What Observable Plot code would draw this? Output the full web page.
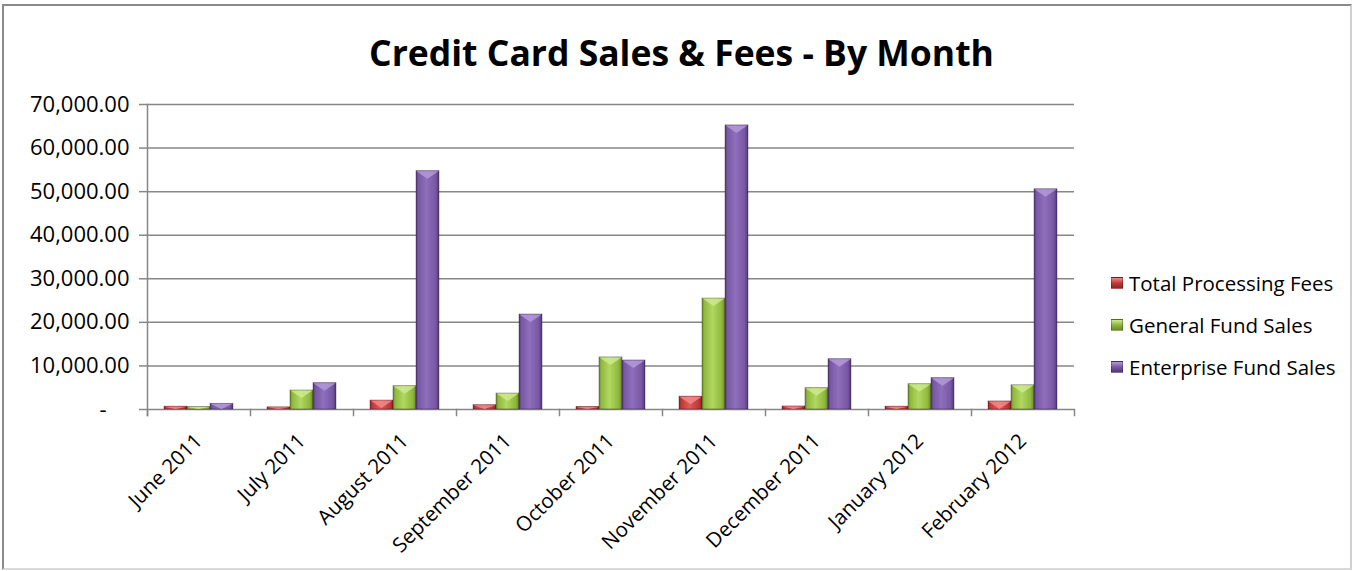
<!DOCTYPE html>
<html>
<head>
<meta charset="utf-8">
<script src="https://cdn.jsdelivr.net/npm/d3@7"></script>
<script src="https://cdn.jsdelivr.net/npm/@observablehq/plot@0.6"></script>
<style>
  body { margin: 0; background: #fff; font-family: "Open Sans", sans-serif; }
  #wrap { position: relative; width: 1353px; height: 571px; overflow: hidden; background: #fff; }
  #frame { position: absolute; left: 2px; top: 4px; width: 1350px; height: 566px; box-sizing: border-box;
           border-top: 2px solid #8a8a8a; border-left: 2px solid #8a8a8a; border-bottom: 2px solid #d9d9d9; border-right: 2px solid #cfcfcf; }
  #title { position: absolute; left: 10px; width: 1343px; top: 28px; text-align: center; font-weight: 700; font-size: 35.5px; color: #000; white-space: nowrap; }
  #legend { position: absolute; left: 1111px; top: 262px; font-size: 20.5px; color: #000; }
  .item { display: flex; align-items: center; height: 42px; white-space: nowrap; }
  .sw { width: 12px; height: 12px; margin-right: 6px; box-sizing: border-box; border: 1px solid rgba(0,0,0,0.25); }
  #chart svg { position: absolute; left: 0; top: 0; }
</style>
</head>
<body>
<div id="wrap">
  <svg width="0" height="0" style="position:absolute">
    <defs id="defs"></defs>
  </svg>
  <div id="frame"></div>
  <div id="chart"></div>
  <div id="title">Credit Card Sales &amp; Fees - By Month</div>
  <div id="legend"></div>
</div>
<script>
// ---- data ----
const months = ["June 2011", "July 2011", "August 2011", "September 2011", "October 2011",
                "November 2011", "December 2011", "January 2012", "February 2012"];
const seriesNames = ["Total Processing Fees", "General Fund Sales", "Enterprise Fund Sales"];
const processingFees      = [650, 500, 2050, 1000, 600, 2950, 700, 650, 1850];
const generalFundSales    = [550, 4350, 5350, 3650, 11950, 25450, 4900, 5800, 5550];
const enterpriseFundSales = [1300, 6050, 54700, 21800, 11250, 65200, 11550, 7200, 50550];
const yTicks = [0, 10000, 20000, 30000, 40000, 50000, 60000, 70000];

// ---- styles ----
const palette = [
  {dark: "#8e2624", mid: "#c0393a", light: "#e05a57", top: "#f08a88"},
  {dark: "#6a8c28", mid: "#8fb83c", light: "#b0d862", top: "#cdea8c"},
  {dark: "#4f3a73", mid: "#7858a4", light: "#8e6fbc", top: "#b49ad8"}
];
const defs = d3.select("#defs");
palette.forEach((p, i) => {
  const g = defs.append("linearGradient").attr("id", "g" + i)
    .attr("x1", 0).attr("x2", 1).attr("y1", 0).attr("y2", 0);
  [[0, p.dark], [0.1, p.mid], [0.45, p.light], [0.85, p.mid], [1, p.dark]].forEach(([o, c]) =>
    g.append("stop").attr("offset", o).attr("stop-color", c));
});

const data = months.flatMap((m, i) => [
  {month: m, series: seriesNames[0], value: processingFees[i]},
  {month: m, series: seriesNames[1], value: generalFundSales[i]},
  {month: m, series: seriesNames[2], value: enterpriseFundSales[i]}
]);

const W = 1353, H = 571;
const axisColor = "#878787";
const fmt = d => d === 0 ? "-\u00a0\u00a0\u00a0\u00a0" : d3.format(",.2f")(d);

const chart = Plot.plot({
  width: W, height: H,
  marginLeft: 145, marginRight: W - 1075, marginTop: 104, marginBottom: H - 409,
  style: {fontFamily: "Open Sans", fontSize: "20px", color: "#000", background: "transparent", overflow: "visible"},
  fx: {domain: months, padding: 0, label: null},
  x: {domain: seriesNames, paddingInner: 0, paddingOuter: 0.72, axis: null},
  y: {domain: [0, 70000], label: null},
  color: {domain: seriesNames, range: palette.map((p, i) => `url(#g${i})`)},
  marks: [
    Plot.gridY(yTicks, {stroke: axisColor, strokeOpacity: 1, strokeWidth: 1.5}),
    Plot.barY(data, {fx: "month", x: "series", y: "value", fill: "series", className: "bars",
                     stroke: "rgba(40,20,40,0.45)", strokeWidth: 0.8}),
    Plot.axisY(yTicks, {tickSize: 8, tickPadding: 10, tickFormat: fmt, stroke: axisColor,
                        strokeWidth: 1.5, fontSize: 22, fill: "#000"}),
    Plot.frame({anchor: "left", facetAnchor: "left", stroke: axisColor, strokeWidth: 1.5, insetBottom: -6}),
    Plot.frame({anchor: "left", stroke: axisColor, strokeWidth: 1.5, insetTop: 305, insetBottom: -6}),
    Plot.frame({anchor: "right", facetAnchor: "right", stroke: axisColor, strokeWidth: 1.5, insetTop: 305, insetBottom: -6}),
    Plot.axisFx({anchor: "bottom", tickRotate: -45, tickSize: 0, tickPadding: 28, fontSize: 20.5, label: null, fill: "#000"})
  ]
});
document.getElementById("chart").appendChild(chart);

// bevel highlight (chevron) on top of each rendered bar
d3.select(chart).selectAll("g.bars rect").each(function () {
  const r = d3.select(this);
  const x = +r.attr("x"), y = +r.attr("y"), w = +r.attr("width"), h = +r.attr("height");
  const f = r.attr("fill") || "";
  const idx = +(f.match(/g(\d)/) || [0, 0])[1];
  const t = Math.min(8, h);
  d3.select(this.parentNode).append("path")
    .attr("d", `M${x + 0.5},${y + 0.5}L${x + w - 0.5},${y + 0.5}L${x + w / 2},${y + t}Z`)
    .attr("fill", palette[idx].top).attr("fill-opacity", 0.85).attr("stroke", "none");
});

// legend
const legend = d3.select("#legend");
seriesNames.forEach((s, i) => {
  const it = legend.append("div").attr("class", "item");
  it.append("div").attr("class", "sw")
    .style("background", `linear-gradient(to bottom, ${palette[i].top}, ${palette[i].mid} 50%, ${palette[i].dark})`);
  it.append("span").text(s);
});
</script>
</body>
</html>
